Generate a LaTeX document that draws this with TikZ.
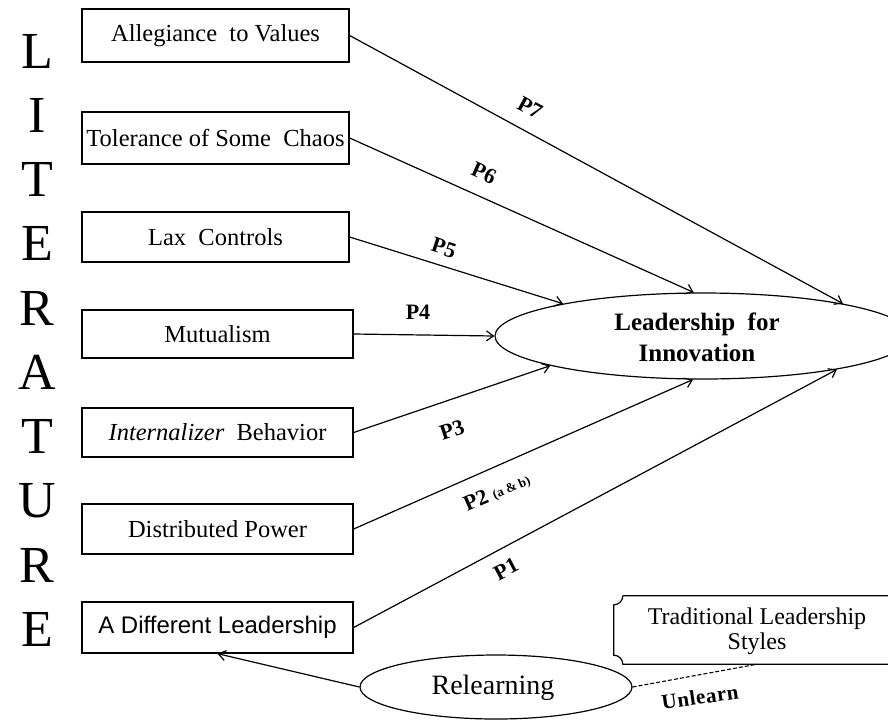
\documentclass[tikz,border=0pt]{standalone}
\usepackage{fontspec}
\setmainfont{Liberation Serif}
\newfontfamily\arialfont{Liberation Sans}
\usetikzlibrary{arrows.meta,shapes.geometric,calc}
\begin{document}
\begin{tikzpicture}[x=1pt,y=-1pt,
  litbox/.style={draw, line width=1.3pt, minimum height=50pt, inner sep=0pt,
                 font=\fontsize{24.5}{28}\selectfont},
  conn/.style={line width=1.2pt, -{Straight Barb[length=7pt,width=10pt]}},
  plabel/.style={font=\bfseries\fontsize{22}{24}\selectfont, inner sep=0pt},
  letter/.style={font=\fontsize{52}{54}\selectfont, inner sep=0pt},
  oval/.style={draw, ellipse, line width=1.2pt, inner sep=0pt},
]
\useasboundingbox (0,0) rectangle (888,721);
\clip (0,0) rectangle (888,721);
\fill[white] (0,0) rectangle (888,721);

% LITERATURE column
\foreach \ch [count=\i from 0] in {L,I,T,E,R,A,T,U,R,E}
  \node[letter] (lit\i) at (37,51+64.3*\i) {\ch};

% left boxes
\node[litbox, minimum width=267pt, minimum height=53pt] (b7) at (215.5,35.5) {Allegiance\ \ to Values};
\node[litbox, minimum width=267pt, minimum height=52pt] (b6) at (215.5,138) {Tolerance of Some\ \ Chaos};
\node[litbox, minimum width=267pt] (b5) at (215.5,237) {Lax\ \ Controls};
\node[litbox, minimum width=271pt, minimum height=48pt] (b4) at (217.5,334) {Mutualism};
\node[litbox, minimum width=271pt, minimum height=49pt] (b3) at (217.5,432.5) {\textit{Internalizer}\ \ Behavior};
\node[litbox, minimum width=271pt] (b2) at (217.5,529) {Distributed Power};
\node[litbox, minimum width=271pt, minimum height=51pt, font=\arialfont\fontsize{24}{28}\selectfont] (b1) at (217.5,627.5) {A Different Leadership};

% central ellipse
\node[oval, minimum width=416pt, minimum height=86pt] (lead) at (703,336) {};
\node[font=\bfseries\fontsize{25}{31}\selectfont, align=center, inner sep=0pt] (leadtxt) at (697,337) {Leadership\ \ for\\Innovation};

% connectors
\draw[conn] (b7.east) -- (lead.13.7);
\draw[conn] (b6.east) -- (lead.102.8);
\draw[conn] (b5.east) -- (lead.167.8);
\draw[conn] (b4.east) -- (lead.west);
\draw[conn] (b3.east) -- (lead.191.5);
\draw[conn] (b2.east) -- (lead.257);
\draw[conn] (b1.east) -- (lead.346.9);

% proposition labels
\node[plabel, rotate=-28.5] (p7) at (530,108) {P7};
\node[plabel, rotate=-24.1] (p6) at (484,173) {P6};
\node[plabel, rotate=-18.2] (p5) at (444,248) {P5};
\node[plabel] (p4) at (418,312) {P4};
\node[plabel, rotate=18] (p3) at (452,430) {P3};
\node[plabel, rotate=23.7] (p2) at (497,492) {P2 {\fontsize{13}{14}\selectfont (a \& b)}};
\node[plabel, rotate=27.9] (p1) at (506,569) {P1};

% relearning
\node[oval, minimum width=272pt, minimum height=64pt] (relearn) at (496,687) {};
\node[font=\fontsize{28}{30}\selectfont, inner sep=0pt] (relearntxt) at (493,688) {Relearning};
\draw[conn] (relearn.west) -- (b1.south);

% traditional leadership styles plaque
\node[minimum width=286pt, minimum height=68pt, inner sep=0pt] (trad) at (757,630) {};
\node[font=\fontsize{24}{25}\selectfont, align=center, inner sep=0pt] (tradtxt) at (757,631) {Traditional Leadership\\Styles};
\draw[line width=1.2pt] ($(trad.north west)+(9,0)$) -- (trad.north east) -- (trad.south east)
  -- ($(trad.south west)+(9,0)$) .. controls +(0,-5) and +(5,0) .. ($(trad.south west)+(0,-9)$)
  -- ($(trad.north west)+(0,9)$) .. controls +(5,0) and +(0,5) .. ($(trad.north west)+(9,0)$);

\draw[line width=1.1pt, dash pattern=on 4pt off 2pt] (relearn.east) -- (trad.south);
\node[font=\bfseries\fontsize{21}{22}\selectfont\addfontfeature{LetterSpace=3}, rotate=8, inner sep=0pt] (unlearn) at (700,697) {Unlearn};
\end{tikzpicture}
\end{document}
